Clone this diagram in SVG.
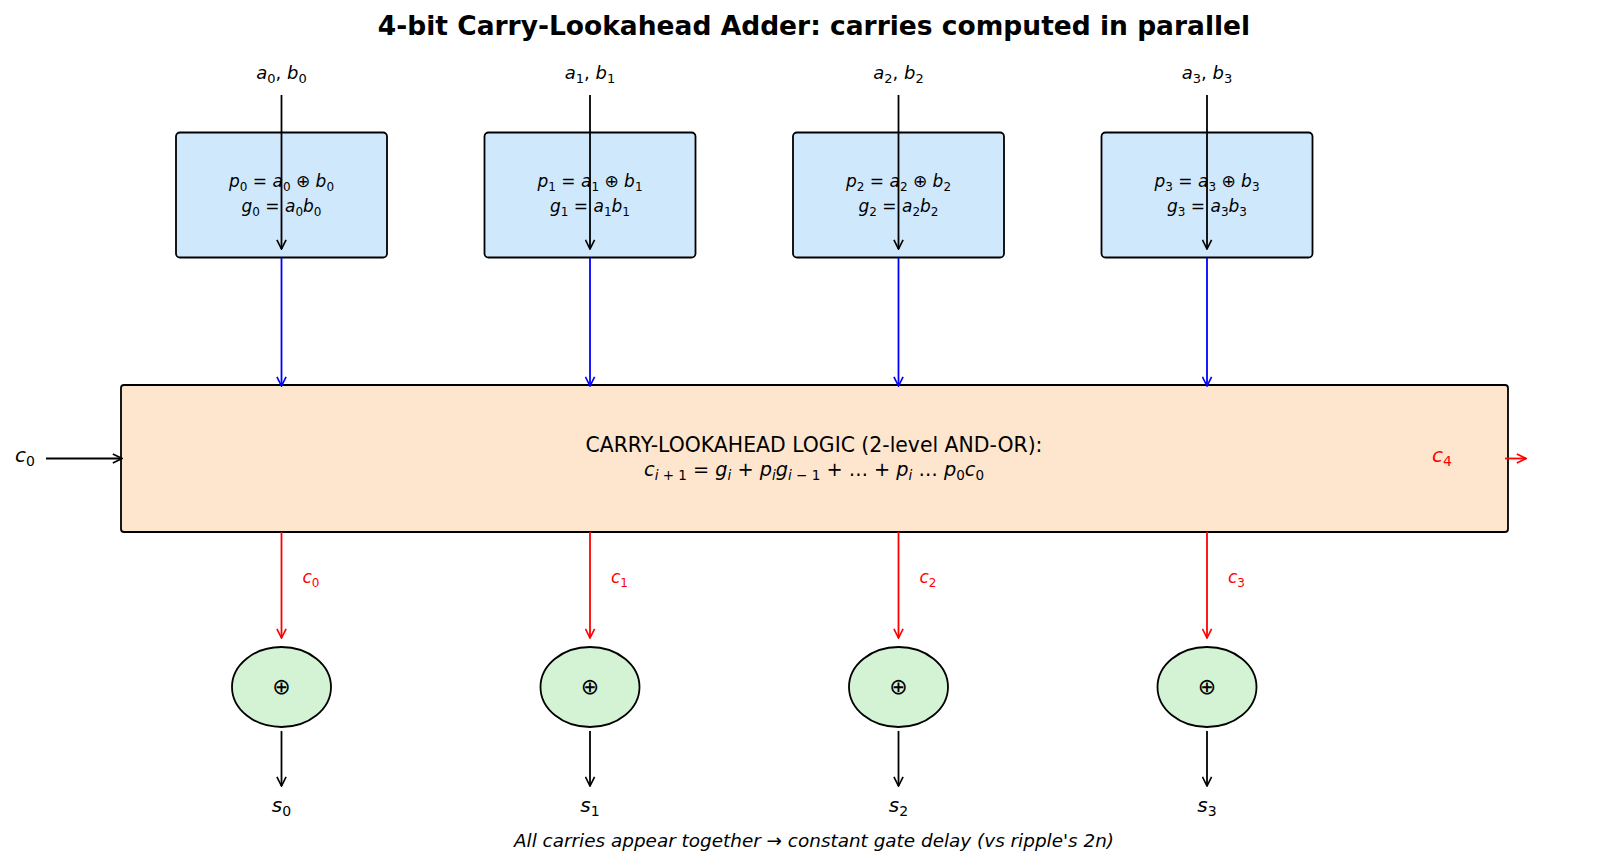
<svg xmlns="http://www.w3.org/2000/svg" width="1600" height="864" viewBox="0 0 1600 864">
<style>
text{font-family:"DejaVu Sans","Liberation Sans",sans-serif;fill:#000}
.title{font-size:26.5px;font-weight:bold;text-anchor:middle}
.lbl{font-size:18px;text-anchor:middle}
.box{font-size:17px;text-anchor:middle}
.i{font-style:italic}
.red{fill:#ff0000}
.pg{fill:#cfe8fc;stroke:#000;stroke-width:1.8}
.cla{fill:#fde6cd;stroke:#000;stroke-width:1.8}
.xor{fill:#d4f3d4;stroke:#000;stroke-width:1.8}
.k{stroke:#000;stroke-width:1.8;fill:none;marker-end:url(#ak)}
.b{stroke:#0000ff;stroke-width:1.8;fill:none;marker-end:url(#ab)}
.r{stroke:#ff0000;stroke-width:1.8;fill:none;marker-end:url(#ar)}
</style>
<defs>
<marker id="ak" viewBox="0 0 12 12" refX="11" refY="6" markerWidth="11" markerHeight="11" markerUnits="userSpaceOnUse" orient="auto"><path d="M1,1 L11,6 L1,11" fill="none" stroke="#000" stroke-width="1.8"/></marker>
<marker id="ab" viewBox="0 0 12 12" refX="11" refY="6" markerWidth="11" markerHeight="11" markerUnits="userSpaceOnUse" orient="auto"><path d="M1,1 L11,6 L1,11" fill="none" stroke="#0000ff" stroke-width="1.8"/></marker>
<marker id="ar" viewBox="0 0 12 12" refX="11" refY="6" markerWidth="11" markerHeight="11" markerUnits="userSpaceOnUse" orient="auto"><path d="M1,1 L11,6 L1,11" fill="none" stroke="#ff0000" stroke-width="1.8"/></marker>
</defs>
<rect width="1600" height="864" fill="#fff"/>
<text class="title" x="814" y="35">4-bit Carry-Lookahead Adder: carries computed in parallel</text>

<g id="pg0"><rect class="pg" x="176" y="132.5" width="211" height="125" rx="4"/>
<text class="box" x="281.5" y="187"><tspan class="i">p</tspan><tspan font-size="12" dy="4">0</tspan><tspan dy="-4"> = </tspan><tspan class="i">a</tspan><tspan font-size="12" dy="4">0</tspan><tspan dy="-4"> ⊕ </tspan><tspan class="i">b</tspan><tspan font-size="12" dy="4">0</tspan></text>
<text class="box" x="281.5" y="212"><tspan class="i">g</tspan><tspan font-size="12" dy="4">0</tspan><tspan dy="-4"> = </tspan><tspan class="i">a</tspan><tspan font-size="12" dy="4">0</tspan><tspan class="i" dy="-4">b</tspan><tspan font-size="12" dy="4">0</tspan></text></g>
<g id="pg1"><rect class="pg" x="484.5" y="132.5" width="211" height="125" rx="4"/>
<text class="box" x="590" y="187"><tspan class="i">p</tspan><tspan font-size="12" dy="4">1</tspan><tspan dy="-4"> = </tspan><tspan class="i">a</tspan><tspan font-size="12" dy="4">1</tspan><tspan dy="-4"> ⊕ </tspan><tspan class="i">b</tspan><tspan font-size="12" dy="4">1</tspan></text>
<text class="box" x="590" y="212"><tspan class="i">g</tspan><tspan font-size="12" dy="4">1</tspan><tspan dy="-4"> = </tspan><tspan class="i">a</tspan><tspan font-size="12" dy="4">1</tspan><tspan class="i" dy="-4">b</tspan><tspan font-size="12" dy="4">1</tspan></text></g>
<g id="pg2"><rect class="pg" x="793" y="132.5" width="211" height="125" rx="4"/>
<text class="box" x="898.5" y="187"><tspan class="i">p</tspan><tspan font-size="12" dy="4">2</tspan><tspan dy="-4"> = </tspan><tspan class="i">a</tspan><tspan font-size="12" dy="4">2</tspan><tspan dy="-4"> ⊕ </tspan><tspan class="i">b</tspan><tspan font-size="12" dy="4">2</tspan></text>
<text class="box" x="898.5" y="212"><tspan class="i">g</tspan><tspan font-size="12" dy="4">2</tspan><tspan dy="-4"> = </tspan><tspan class="i">a</tspan><tspan font-size="12" dy="4">2</tspan><tspan class="i" dy="-4">b</tspan><tspan font-size="12" dy="4">2</tspan></text></g>
<g id="pg3"><rect class="pg" x="1101.5" y="132.5" width="211" height="125" rx="4"/>
<text class="box" x="1207" y="187"><tspan class="i">p</tspan><tspan font-size="12" dy="4">3</tspan><tspan dy="-4"> = </tspan><tspan class="i">a</tspan><tspan font-size="12" dy="4">3</tspan><tspan dy="-4"> ⊕ </tspan><tspan class="i">b</tspan><tspan font-size="12" dy="4">3</tspan></text>
<text class="box" x="1207" y="212"><tspan class="i">g</tspan><tspan font-size="12" dy="4">3</tspan><tspan dy="-4"> = </tspan><tspan class="i">a</tspan><tspan font-size="12" dy="4">3</tspan><tspan class="i" dy="-4">b</tspan><tspan font-size="12" dy="4">3</tspan></text></g>

<g id="cla"><rect class="cla" x="121" y="385" width="1387" height="147" rx="3"/>
<text x="814" y="452" font-size="20.4" text-anchor="middle">CARRY-LOOKAHEAD LOGIC (2-level AND-OR):</text>
<text x="814" y="476" font-size="19.3" text-anchor="middle"><tspan class="i">c</tspan><tspan font-size="13.5" dy="4"><tspan class="i">i</tspan> + 1</tspan><tspan dy="-4"> = </tspan><tspan class="i">g</tspan><tspan font-size="13.5" dy="4" class="i">i</tspan><tspan dy="-4"> + </tspan><tspan class="i">p</tspan><tspan font-size="13.5" dy="4" class="i">i</tspan><tspan class="i" dy="-4">g</tspan><tspan font-size="13.5" dy="4"><tspan class="i">i</tspan> − 1</tspan><tspan dy="-4"> +  …  + </tspan><tspan class="i">p</tspan><tspan font-size="13.5" dy="4" class="i">i</tspan><tspan dy="-4"> … </tspan><tspan class="i">p</tspan><tspan font-size="13.5" dy="4">0</tspan><tspan class="i" dy="-4">c</tspan><tspan font-size="13.5" dy="4">0</tspan></text>
<text x="1442" y="462" font-size="20" text-anchor="middle" class="red"><tspan class="i">c</tspan><tspan font-size="14" dy="4">4</tspan></text></g>

<g id="x0"><ellipse class="xor" cx="281.5" cy="687" rx="49.5" ry="40"/><text x="281.5" y="694" font-size="22" text-anchor="middle">⊕</text></g>
<g id="x1"><ellipse class="xor" cx="590" cy="687" rx="49.5" ry="40"/><text x="590" y="694" font-size="22" text-anchor="middle">⊕</text></g>
<g id="x2"><ellipse class="xor" cx="898.5" cy="687" rx="49.5" ry="40"/><text x="898.5" y="694" font-size="22" text-anchor="middle">⊕</text></g>
<g id="x3"><ellipse class="xor" cx="1207" cy="687" rx="49.5" ry="40"/><text x="1207" y="694" font-size="22" text-anchor="middle">⊕</text></g>

<g id="inputs">
<text class="lbl" x="281.5" y="79"><tspan class="i">a</tspan><tspan font-size="13" dy="4">0</tspan><tspan dy="-4">, </tspan><tspan class="i">b</tspan><tspan font-size="13" dy="4">0</tspan></text>
<text class="lbl" x="590" y="79"><tspan class="i">a</tspan><tspan font-size="13" dy="4">1</tspan><tspan dy="-4">, </tspan><tspan class="i">b</tspan><tspan font-size="13" dy="4">1</tspan></text>
<text class="lbl" x="898.5" y="79"><tspan class="i">a</tspan><tspan font-size="13" dy="4">2</tspan><tspan dy="-4">, </tspan><tspan class="i">b</tspan><tspan font-size="13" dy="4">2</tspan></text>
<text class="lbl" x="1207" y="79"><tspan class="i">a</tspan><tspan font-size="13" dy="4">3</tspan><tspan dy="-4">, </tspan><tspan class="i">b</tspan><tspan font-size="13" dy="4">3</tspan></text>
<text x="25" y="462" font-size="20" text-anchor="middle"><tspan class="i">c</tspan><tspan font-size="14" dy="4">0</tspan></text>
</g>

<g id="outputs">
<text x="281.5" y="812" font-size="20" text-anchor="middle"><tspan class="i">s</tspan><tspan font-size="14" dy="4">0</tspan></text>
<text x="590" y="812" font-size="20" text-anchor="middle"><tspan class="i">s</tspan><tspan font-size="14" dy="4">1</tspan></text>
<text x="898.5" y="812" font-size="20" text-anchor="middle"><tspan class="i">s</tspan><tspan font-size="14" dy="4">2</tspan></text>
<text x="1207" y="812" font-size="20" text-anchor="middle"><tspan class="i">s</tspan><tspan font-size="14" dy="4">3</tspan></text>
</g>

<g id="connectors">
<path class="k" d="M281.5,95 V249"/><path class="k" d="M590,95 V249"/><path class="k" d="M898.5,95 V249"/><path class="k" d="M1207,95 V249"/>
<path class="b" d="M281.5,258 V386"/><path class="b" d="M590,258 V386"/><path class="b" d="M898.5,258 V386"/><path class="b" d="M1207,258 V386"/>
<path class="r" d="M281.5,532 V638"/><path class="r" d="M590,532 V638"/><path class="r" d="M898.5,532 V638"/><path class="r" d="M1207,532 V638"/>
<path class="k" d="M281.5,731 V786"/><path class="k" d="M590,731 V786"/><path class="k" d="M898.5,731 V786"/><path class="k" d="M1207,731 V786"/>
<path class="k" d="M46,458.5 H122"/>
<path class="r" d="M1505,458.5 H1526"/>
</g>

<g id="carry-labels">
<text x="311" y="583" font-size="17" text-anchor="middle" class="red"><tspan class="i">c</tspan><tspan font-size="12" dy="4">0</tspan></text>
<text x="619.5" y="583" font-size="17" text-anchor="middle" class="red"><tspan class="i">c</tspan><tspan font-size="12" dy="4">1</tspan></text>
<text x="928" y="583" font-size="17" text-anchor="middle" class="red"><tspan class="i">c</tspan><tspan font-size="12" dy="4">2</tspan></text>
<text x="1236.5" y="583" font-size="17" text-anchor="middle" class="red"><tspan class="i">c</tspan><tspan font-size="12" dy="4">3</tspan></text>
</g>

<text x="814" y="847" font-size="18.4" font-style="italic" text-anchor="middle">All carries appear together → constant gate delay (vs ripple's 2n)</text>
</svg>
